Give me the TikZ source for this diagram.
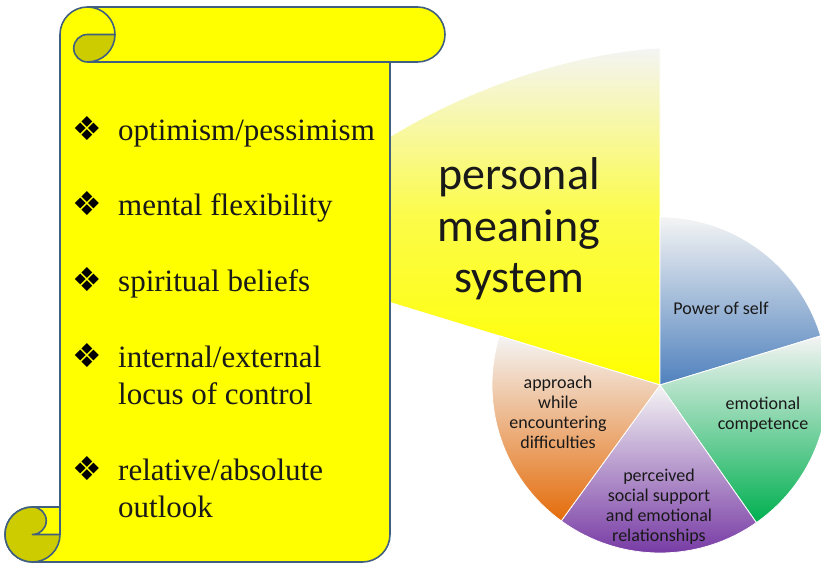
\documentclass[tikz,border=0pt]{standalone}
\usepackage{fontspec}
\setmainfont{Liberation Serif}
\newfontfamily\calibri{Carlito}
\newfontfamily\dingfont{DejaVu Sans}
\usepackage{xcolor}
\usepackage{tikz}
\usetikzlibrary{positioning,calc}

\definecolor{scrollyellow}{HTML}{FFFF00}
\definecolor{curlolive}{HTML}{CCCC00}
\definecolor{scrolledge}{HTML}{41607F}
\definecolor{pietop}{HTML}{F4F4F4}
\definecolor{pieblue}{HTML}{4F81BD}
\definecolor{piegreen}{HTML}{00B050}
\definecolor{piepurple}{HTML}{7030A0}
\definecolor{pieorange}{HTML}{E46C0A}

\begin{document}
\begin{tikzpicture}[x=1pt, y=1pt,
  slice/.style={draw=white, line width=0.8pt, top color=pietop},
  edge/.style={draw=scrolledge, line width=1.6pt, line join=round},
  item/.style={anchor=base west, inner sep=0pt, align=left, text=black!90,
    font=\fontsize{31}{37}\selectfont},
  bull/.style={anchor=base west, inner sep=0pt, text=black,
    font=\dingfont\fontsize{33}{33}\selectfont},
  lbl/.style={align=center, inner sep=0pt, text=black!90,
    font=\calibri\fontsize{18}{20}\selectfont}]
\useasboundingbox (0,0) rectangle (821,564);

% Pie
\coordinate (ctr) at (660,179);
\path[slice, bottom color=yellow, middle color=yellow!70!pietop]
  (ctr) -- ++(163:293) -- (380,421) .. controls (470,479) and (580,512) .. (660,516) -- cycle;
\path[slice, bottom color=pieblue] (ctr) -- ++(17:168) arc[start angle=17, end angle=90, radius=168] -- cycle;
\path[slice, bottom color=piegreen] (ctr) -- ++(-55:168) arc[start angle=-55, end angle=17, radius=168] -- cycle;
\path[slice, bottom color=piepurple] (ctr) -- ++(-126:168) arc[start angle=-126, end angle=-55, radius=168] -- cycle;
\path[slice, bottom color=pieorange] (ctr) -- ++(163:168) arc[start angle=163, end angle=234, radius=168] -- cycle;

\node[align=center, inner sep=0pt, text=black!90, font=\calibri\fontsize{46}{51.5}\selectfont]
  (pms) at (519,335) {personal\\meaning\\system};
\node[lbl] (pos) at (721,256) {Power of self};
\node[lbl] (emo) at (763,149) {emotional\\competence};
\node[lbl] (appr) at (558,152) {approach\\while\\encountering\\difficulties};
\node[lbl] (soc) at (659,57) {perceived\\social support\\and emotional\\relationships};

% Scroll
\draw[edge, fill=scrollyellow] (60,57) -- (60,529.5) arc[start angle=180, end angle=90, radius=27.5]
  -- (417.5,557) arc[start angle=90, end angle=-90, radius=27.5]
  -- (390,502) -- (390,29.5) arc[start angle=0, end angle=-90, radius=27.5]
  -- (32.5,2) arc[start angle=-90, end angle=-270, radius=27.5] -- cycle;
\fill[curlolive] (115,529.5) arc[start angle=0, end angle=-90, radius=27.5]
  arc[start angle=-90, end angle=-270, radius=13.75] -- cycle;
\fill[curlolive] (60,29.5) arc[start angle=0, end angle=-270, radius=27.5]
  arc[start angle=90, end angle=-90, radius=13.75] -- cycle;
\draw[edge] (87.5,557) arc[start angle=90, end angle=-90, radius=27.5]
  arc[start angle=-90, end angle=-270, radius=13.75] -- (115,529.5);
\draw[edge] (390,502) -- (87.5,502);
\draw[edge] (60,29.5) arc[start angle=0, end angle=-270, radius=27.5] -- (60,57) -- cycle;
\draw[edge] (32.5,57) arc[start angle=90, end angle=-90, radius=13.75] -- (60,29.5);

% Items
\node[bull] (b1) at (72,423) {❖};
\node[item] (t1) at (118,423) {optimism/pessimism};
\node[bull] (b2) at (72,348) {❖};
\node[item] (t2) at (118,348) {mental flexibility};
\node[bull] (b3) at (72,272) {❖};
\node[item] (t3) at (118,272) {spiritual beliefs};
\node[bull] (b4) at (72,196) {❖};
\node[item] (t4) at (118,159) {internal/external\\locus of control};
\node[bull] (b5) at (72,83) {❖};
\node[item] (t5) at (118,46) {relative/absolute\\outlook};

\end{tikzpicture}
\end{document}
